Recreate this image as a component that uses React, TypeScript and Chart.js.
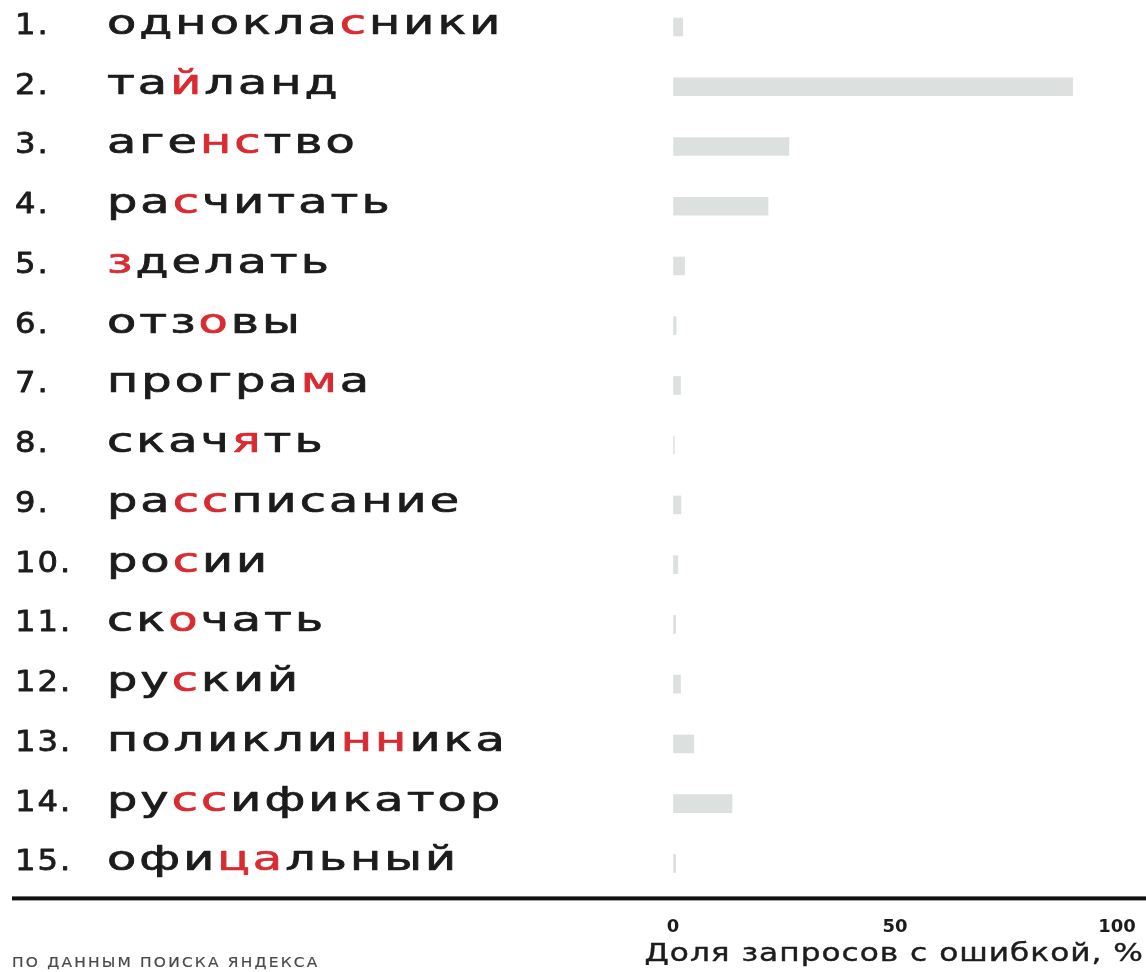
import React, { useEffect, useRef } from "react";
import { Chart, registerables } from "chart.js";

Chart.register(...registerables);

const ranks = ["1.", "2.", "3.", "4.", "5.", "6.", "7.", "8.", "9.", "10.", "11.", "12.", "13.", "14.", "15."];
const prefixes = ["однокла", "та", "аге", "ра", "", "отз", "програ", "скач", "ра", "ро", "ск", "ру", "поликли", "ру", "офи"];
const errors = ["с", "й", "нс", "с", "з", "о", "м", "я", "сс", "с", "о", "с", "нн", "сс", "ца"];
const suffixes = ["ники", "ланд", "тво", "читать", "делать", "вы", "а", "ть", "писание", "ии", "чать", "кий", "ика", "ификатор", "льный"];
const categories = prefixes.map((p, i) => p + errors[i] + suffixes[i]);
const errorShare = [2.2, 90, 26.1, 21.4, 2.6, 0.7, 1.7, 0.3, 1.8, 1.1, 0.6, 1.7, 4.7, 13.3, 0.6];
const xTicks = [0, 50, 100];
const axisTitle = "Доля запросов с ошибкой, %";
const sourceNote = "ПО ДАННЫМ ПОИСКА ЯНДЕКСА";

const TEXT = "#1c1c1c";
const RED = "#d92b32";
const BAR = "#dce1e0";

function spacedWidth(ctx: CanvasRenderingContext2D, text: string, sx: number, spacing: number) {
  let w = 0;
  for (let i = 0; i < text.length; i++) {
    w += ctx.measureText(text[i]).width * sx;
    if (i < text.length - 1) w += spacing;
  }
  return w;
}

function drawSpaced(
  ctx: CanvasRenderingContext2D,
  text: string,
  x: number,
  y: number,
  sx: number,
  spacing: number,
  stroke = 0
) {
  for (let i = 0; i < text.length; i++) {
    const ch = text[i];
    ctx.save();
    ctx.translate(x, y);
    ctx.scale(sx, 1);
    ctx.fillText(ch, 0, 0);
    if (stroke > 0) {
      ctx.strokeStyle = ctx.fillStyle;
      ctx.lineWidth = stroke;
      ctx.lineJoin = "round";
      ctx.strokeText(ch, 0, 0);
    }
    ctx.restore();
    x += ctx.measureText(ch).width * sx + spacing;
  }
  return x;
}

const textPlugin = {
  id: "textPlugin",
  afterDraw(chart: any) {
    const ctx: CanvasRenderingContext2D = chart.ctx;
    const yScale = chart.scales.y;
    const xScale = chart.scales.x;
    ctx.save();
    ctx.textBaseline = "alphabetic";
    ctx.textAlign = "left";
    for (let i = 0; i < categories.length; i++) {
      const cy = yScale.getPixelForTick(i);
      const base = cy + 7;
      ctx.font = "28px 'DejaVu Sans'";
      ctx.fillStyle = TEXT;
      drawSpaced(ctx, ranks[i], 15, base, 1.15, 2, 0.8);
      ctx.font = "33px 'DejaVu Sans'";
      const sx = 1.45;
      const sp = 3;
      const st = 0.7;
      let x = 107;
      ctx.fillStyle = TEXT;
      if (prefixes[i].length) x = drawSpaced(ctx, prefixes[i], x, base, sx, sp, st);
      ctx.fillStyle = RED;
      x = drawSpaced(ctx, errors[i], x, base, sx, sp, st);
      ctx.fillStyle = TEXT;
      drawSpaced(ctx, suffixes[i], x, base, sx, sp, st);
    }
    // axis rule
    const ruleY = xScale.top + 35;
    ctx.fillStyle = "#111";
    ctx.fillRect(12, ruleY - 2, chart.width - 12, 4);
    // axis title
    ctx.fillStyle = TEXT;
    ctx.font = "24px 'DejaVu Sans'";
    const tw = spacedWidth(ctx, axisTitle, 1.3, 1);
    drawSpaced(ctx, axisTitle, chart.width - 3 - tw, 961, 1.3, 1, 0.4);
    // source
    ctx.fillStyle = "#4a4a4a";
    ctx.font = "14px 'DejaVu Sans'";
    drawSpaced(ctx, sourceNote, 12, 967, 1.1, 2.2, 0.2);
    ctx.restore();
  },
};

export default function App() {
  const ref = useRef<HTMLCanvasElement>(null);
  useEffect(() => {
    if (!ref.current) return;
    const chart = new Chart(ref.current, {
      type: "bar",
      data: {
        labels: categories,
        datasets: [
          {
            data: errorShare,
            backgroundColor: BAR,
            borderWidth: 0,
            barThickness: 18,
            clip: false as any,
          },
        ],
      },
      options: {
        indexAxis: "y",
        animation: false,
        responsive: true,
        maintainAspectRatio: false,
        layout: { padding: { left: 673, right: 29, top: 27, bottom: 34 } },
        plugins: { legend: { display: false }, tooltip: { enabled: false }, title: { display: false } },
        scales: {
          y: { type: "category", display: false, offset: false },
          x: {
            type: "linear",
            min: 0,
            max: 100,
            afterBuildTicks: (s: any) => {
              s.ticks = xTicks.map((v) => ({ value: v }));
            },
            grid: {
              display: true,
              drawOnChartArea: false,
              drawTicks: true,
              tickLength: 53,
              color: "rgba(0,0,0,0)",
            },
            border: { display: false },
            ticks: {
              padding: 0,
              color: TEXT,
              font: { family: "'DejaVu Sans'", size: 18, weight: "bold" },
            },
          },
        },
      },
      plugins: [textPlugin],
    });
    return () => chart.destroy();
  }, []);
  return (
    <div style={{ position: "fixed", left: 0, top: 0, width: 1146, height: 972, background: "#fff" }}>
      <canvas ref={ref} />
    </div>
  );
}
